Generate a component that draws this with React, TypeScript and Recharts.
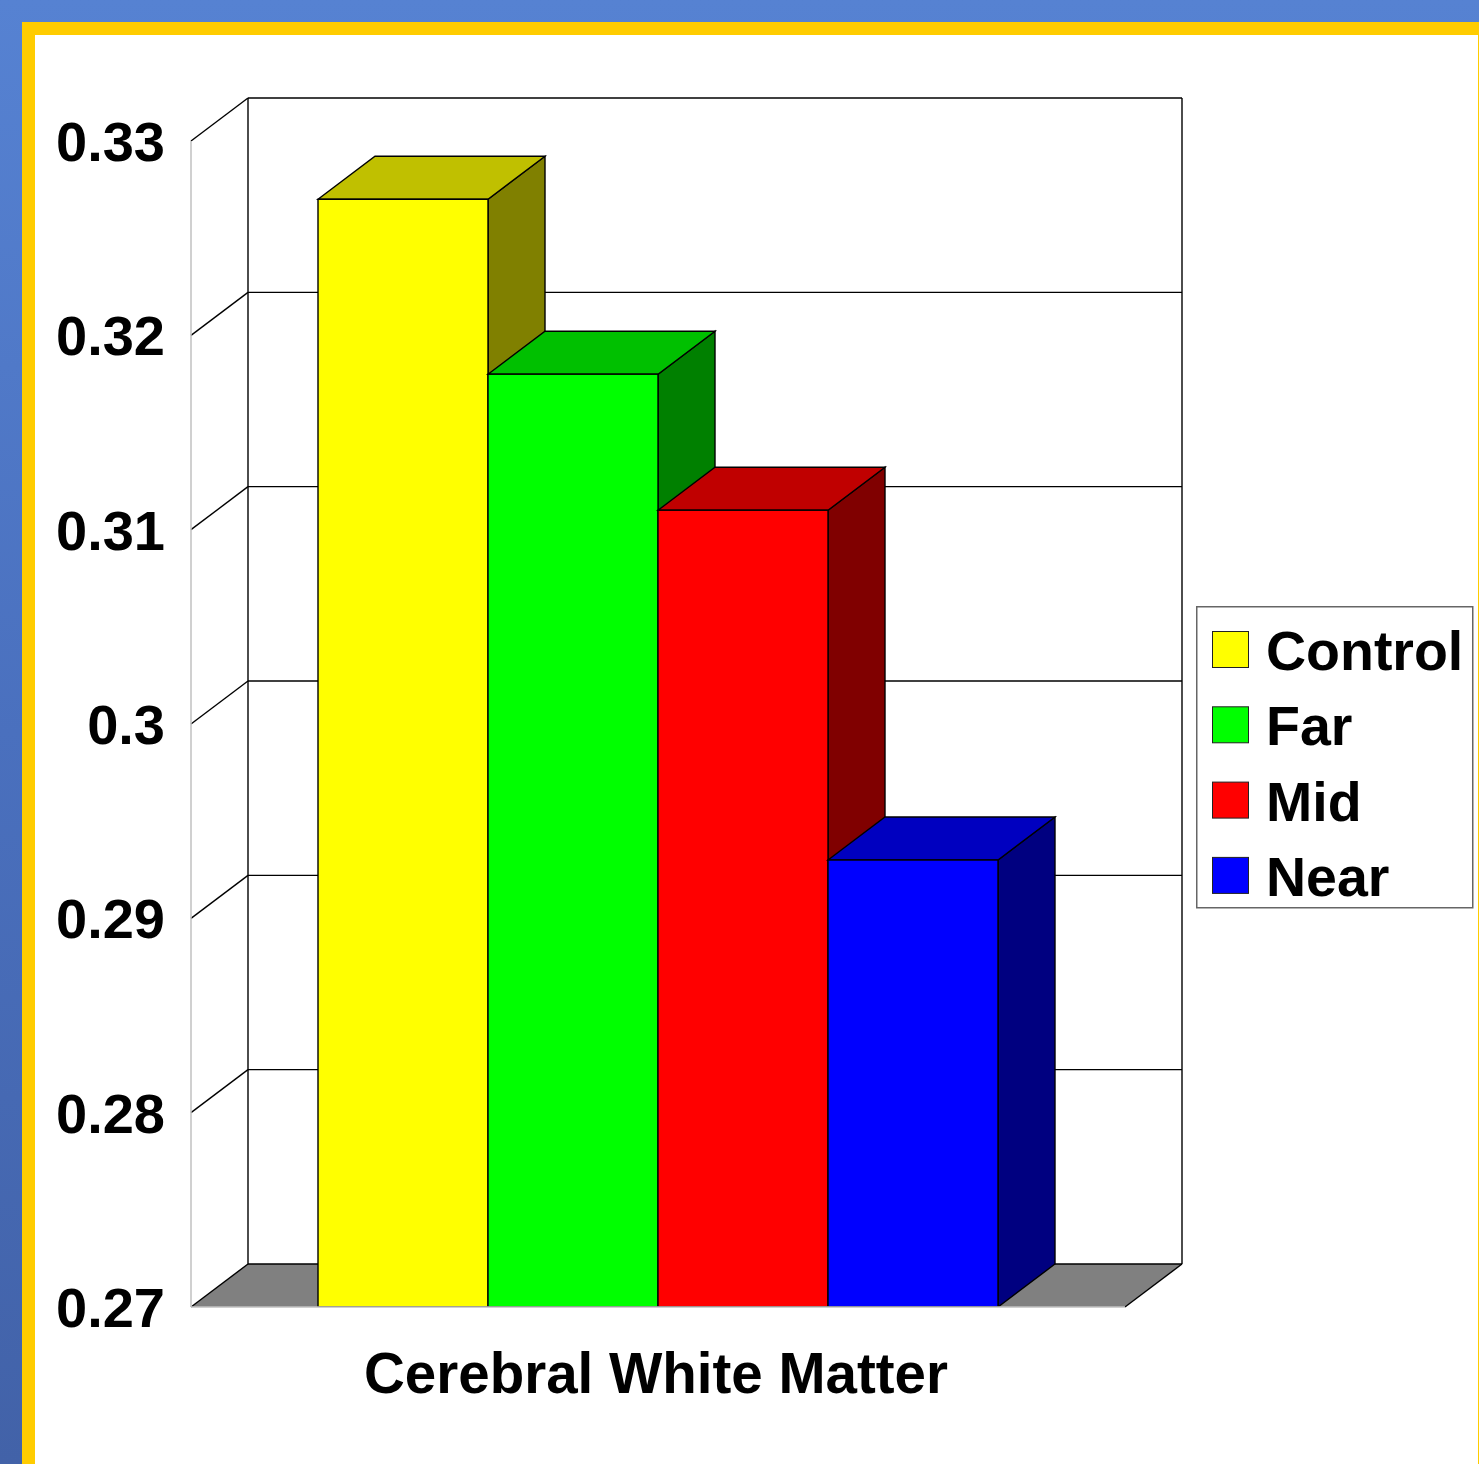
import React from 'react';
import { BarChart, Bar, XAxis, YAxis, CartesianGrid, Legend } from 'recharts';

const categories = ['Cerebral White Matter'];
const seriesNames = ['Control', 'Far', 'Mid', 'Near'];
const controlValues = [0.327];
const farValues = [0.318];
const midValues = [0.311];
const nearValues = [0.293];
const yTicks = [0.27, 0.28, 0.29, 0.3, 0.31, 0.32, 0.33];

// front / top / side shades for each series
const frontColors = ['#FFFF00', '#00FF00', '#FF0000', '#0000FF'];
const topColors = ['#C0C000', '#00C000', '#C00000', '#0000C0'];
const sideColors = ['#808000', '#008000', '#800000', '#000080'];

// depth offset of the 3D walls and boxes
const DX = 57;
const DY = -43;
const FONT = '"Liberation Sans", Arial, Helvetica, sans-serif';
const EDGE = 1.4;

const data = categories.map((name, i) => ({
  name,
  Control: controlValues[i],
  Far: farValues[i],
  Mid: midValues[i],
  Near: nearValues[i],
}));

const makeBox = (idx: number) => (props: any) => {
  const { x, y, width, height } = props;
  const r = x + width;
  const b = y + height;
  return (
    <g>
      <polygon
        points={`${r},${y} ${r + DX},${y + DY} ${r + DX},${b + DY} ${r},${b}`}
        fill={sideColors[idx]}
        stroke="#000"
        strokeWidth={EDGE}
      />
      <polygon
        points={`${x},${y} ${x + DX},${y + DY} ${r + DX},${y + DY} ${r},${y}`}
        fill={topColors[idx]}
        stroke="#000"
        strokeWidth={EDGE}
      />
      <rect x={x} y={y} width={width} height={height} fill={frontColors[idx]} stroke="#000" strokeWidth={EDGE} />
    </g>
  );
};

// each horizontal grid line becomes a tick on the side wall plus a line on the back wall
const wallLine = (props: any) => {
  const { x1, y1, x2, y, height, index } = props;
  const bottom = y + height;
  const isFloor = Math.abs(y1 - bottom) < 0.5;
  const isTop = Math.abs(y1 - y) < 0.5;
  return (
    <g key={`wall-${index}`}>
      {isFloor && (
        <polygon
          points={`${x1},${y1} ${x2},${y1} ${x2 + DX},${y1 + DY} ${x1 + DX},${y1 + DY}`}
          fill="#808080"
        />
      )}
      {isTop && (
        <g>
          <line x1={x1 + DX} y1={y + DY} x2={x1 + DX} y2={bottom + DY} stroke="#000" strokeWidth={EDGE} />
          <line x1={x2 + DX} y1={y + DY} x2={x2 + DX} y2={bottom + DY} stroke="#000" strokeWidth={EDGE} />
        </g>
      )}
      <line x1={x1} y1={y1} x2={x1 + DX} y2={y1 + DY} stroke="#000" strokeWidth={EDGE} />
      <line x1={x1 + DX} y1={y1 + DY} x2={x2 + DX} y2={y1 + DY} stroke="#000" strokeWidth={EDGE} />
      {isFloor && <line x1={x2} y1={y1} x2={x2 + DX} y2={y1 + DY} stroke="#000" strokeWidth={EDGE} />}
    </g>
  );
};

const renderLegend = (props: any) => {
  const items = [...(props.payload || [])].sort(
    (a: any, b: any) => seriesNames.indexOf(a.value) - seriesNames.indexOf(b.value)
  );
  return (
    <svg width={278} height={303} style={{ display: 'block' }}>
      <rect x={0.75} y={0.75} width={276} height={301} fill="#fff" stroke="#666" strokeWidth={1.5} />
      {items.map((item: any, i: number) => (
        <g key={item.value}>
          <rect x={16.5} y={25.5 + i * 75.3} width={36} height={36} fill={item.color} stroke="#222" strokeWidth={1} />
          <text x={70} y={64 + i * 75.3} fontSize={55.5} fontWeight="bold" fontFamily={FONT} fill="#000">
            {item.value}
          </text>
        </g>
      ))}
    </svg>
  );
};

export default function App() {
  return (
    <div
      style={{
        position: 'absolute',
        left: 0,
        top: 0,
        width: 1479,
        height: 1464,
        overflow: 'hidden',
        background: 'linear-gradient(to bottom, #5682D2 0%, #4A70BE 50%, #4262A8 100%)',
      }}
    >
      <div style={{ position: 'absolute', left: 22, top: 22, width: 1457, height: 1442, background: '#FFCC00' }} />
      <div style={{ position: 'absolute', left: 35, top: 35, width: 1443, height: 1429, background: '#FFFFFF' }} />
      <div style={{ position: 'absolute', left: 0, top: 0 }}>
        <BarChart
          width={1479}
          height={1464}
          data={data}
          margin={{ top: 141, right: 354, bottom: 37, left: 41 }}
          barCategoryGap={127}
          barGap={0}
        >
          <CartesianGrid vertical={false} horizontal={wallLine} />
          <XAxis
            dataKey="name"
            height={120}
            axisLine={{ stroke: '#c0c0c0', strokeWidth: 1.5 }}
            tickLine={false}
            tickMargin={40}
            tick={{ fill: '#000', fontSize: 56.5, fontWeight: 'bold', fontFamily: FONT, dx: -2 }}
          />
          <YAxis
            width={150}
            domain={[0.27, 0.33]}
            ticks={yTicks}
            interval={0}
            allowDataOverflow
            axisLine={{ stroke: '#c0c0c0', strokeWidth: 1.5 }}
            tickLine={false}
            tickMargin={20}
            tick={{ fill: '#000', fontSize: 56, fontWeight: 'bold', fontFamily: FONT }}
          />
          <Legend
            layout="vertical"
            align="center"
            verticalAlign="middle"
            wrapperStyle={{ left: 1196, top: 606, width: 278, height: 303 }}
            content={renderLegend}
          />
          {seriesNames.map((name, i) => (
            <Bar
              key={name}
              dataKey={name}
              name={name}
              fill={frontColors[i]}
              shape={makeBox(i)}
              isAnimationActive={false}
            />
          ))}
        </BarChart>
      </div>
    </div>
  );
}
